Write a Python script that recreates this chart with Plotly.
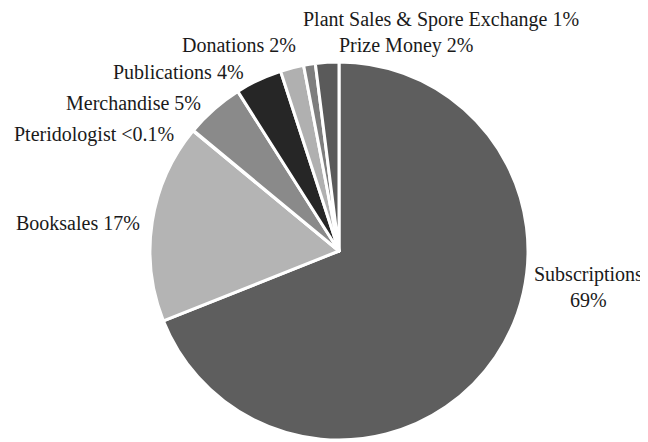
import plotly.graph_objects as go

categories = ["Subscriptions", "Booksales", "Pteridologist", "Merchandise",
              "Publications", "Donations", "Plant Sales & Spore Exchange", "Prize Money"]
values = [69, 17, 0.05, 5, 4, 2, 1, 2]
pct_labels = ["69%", "17%", "<0.1%", "5%", "4%", "2%", "1%", "2%"]

colors = ["#5e5e5e", "#b4b4b4", "#8a8a8a", "#8a8a8a", "#262626", "#b0b0b0", "#7e7e7e", "#5a5a5a"]

W, H = 648, 442
# label anchor positions in pixels (layout positions) and horizontal anchors
label_pos = [(637, 279), (70, 215), (86, 127), (125, 95), (170, 64), (231, 37), (433, 11), (398, 37)]
label_anchor = ["right", "center", "center", "center", "center", "center", "center", "center"]

fig = go.Figure(go.Pie(
    labels=categories, values=values, sort=False, direction="clockwise", rotation=0,
    marker=dict(colors=colors, line=dict(color="white", width=3)),
    textinfo="none", hoverinfo="label+percent", showlegend=False,
    domain=dict(x=[142 / W, 520 / W], y=[10 / H, 388 / H]),
))

for cat, pct, (px, py), anc in zip(categories, pct_labels, label_pos, label_anchor):
    txt = f"{cat}<br>{pct}" if cat == "Subscriptions" else f"{cat} {pct}"
    fig.add_annotation(x=px / W, y=1 - py / H, xref="paper", yref="paper", text=txt,
                       showarrow=False, xanchor=anc, yanchor="middle", align="center",
                       font=dict(family="Liberation Serif", size=20, color="#1a1a1a"))

fig.update_layout(width=W, height=H, margin=dict(l=0, r=0, t=0, b=0),
                  paper_bgcolor="white", plot_bgcolor="white")
fig.write_html("out.html")
